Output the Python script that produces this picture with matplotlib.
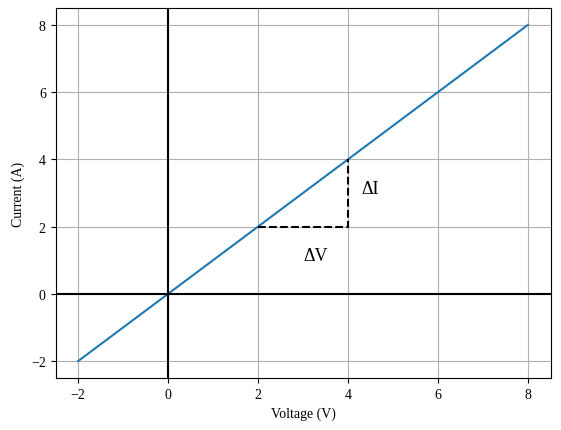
import matplotlib
matplotlib.use("Agg")
import matplotlib.pyplot as plt

plt.rcParams['font.family'] = ['Liberation Serif', 'DejaVu Serif']
plt.rcParams['mathtext.fontset'] = 'stix'

voltage = [-2, 8]
current = [-2, 8]
dash_x = [2, 4, 4]
dash_y = [2, 2, 4]
xticks = [-2, 0, 2, 4, 6, 8]
yticks = [-2, 0, 2, 4, 6, 8]

fig = plt.figure(figsize=(5.61, 4.31), dpi=100)
ax = fig.add_axes([55.5/561, 1-379/431, (550.5-55.5)/561, (379-9)/431])
ax.plot(voltage, current, color='#1f77b4')
ax.plot(dash_x, dash_y, 'k--')
ax.axhline(0, color='black')
ax.axvline(0, color='black')
ax.text(3, 1, 'ΔV', fontsize=13)
ax.text(4.3, 3, 'ΔI', fontsize=13)
ax.set_xticks(xticks)
ax.set_yticks(yticks)
ax.set_xlim(-2.5, 8.5)
ax.set_ylim(-2.5, 8.5)
ax.grid(True)
ax.set_xlabel('Voltage (V)')
ax.set_ylabel('Current (A)')
fig.savefig('out.png', dpi=100)
